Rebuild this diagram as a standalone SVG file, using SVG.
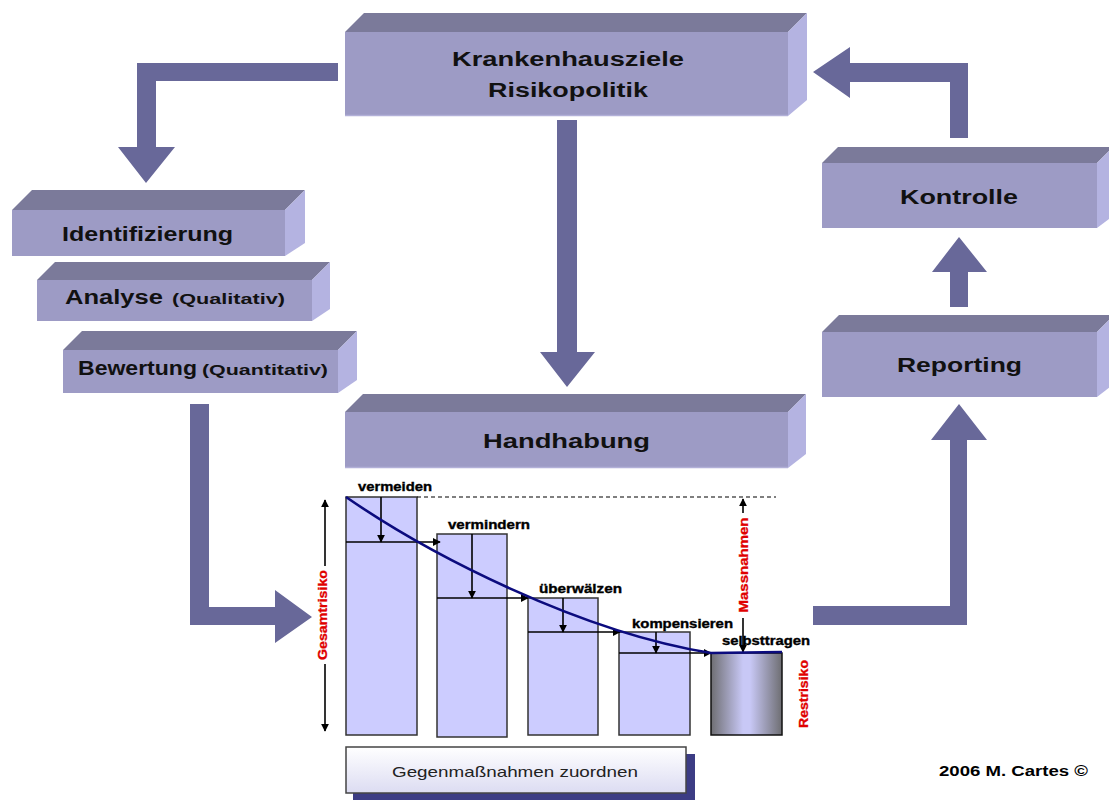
<svg xmlns="http://www.w3.org/2000/svg" width="1109" height="801" viewBox="0 0 1109 801">
  <defs>
    <style>
      .front { fill: #9D9BC5; }
      .top { fill: #7B7A9A; }
      .side { fill: #B4B3E1; }
      .edge { stroke: #B2B0D8; stroke-width: 1.5; }
      .lbl { font-family: "Liberation Sans", Arial, sans-serif; font-weight: bold; font-size: 20px; fill: #111; }
      .sub { font-family: "Liberation Sans", Arial, sans-serif; font-weight: bold; font-size: 14px; fill: #111; }
      .small { font-family: "Liberation Sans", Arial, sans-serif; font-weight: bold; font-size: 12px; fill: #000; stroke: #000; stroke-width: 0.35; }
      .red { font-family: "Liberation Sans", Arial, sans-serif; font-weight: bold; font-size: 12px; fill: #E00000; stroke: #E00000; stroke-width: 0.3; }
      .flow { fill: #686899; }
      .bar { fill: #CCCCFF; stroke: #333; stroke-width: 1.5; }
      .thin { stroke: #000; stroke-width: 1.6; fill: none; }
    </style>
    <marker id="ah" viewBox="0 0 10 10" refX="9" refY="5" markerWidth="5" markerHeight="5" orient="auto-start-reverse" markerUnits="strokeWidth">
      <path d="M0,0 L10,5 L0,10 z" fill="#000"/>
    </marker>
    <linearGradient id="cyl" x1="0" y1="0" x2="1" y2="0">
      <stop offset="0" stop-color="#6E6E72"/>
      <stop offset="0.45" stop-color="#C8C8F6"/>
      <stop offset="0.55" stop-color="#C8C8F6"/>
      <stop offset="1" stop-color="#6E6E72"/>
    </linearGradient>
    <linearGradient id="tag" x1="0" y1="0" x2="0" y2="1">
      <stop offset="0" stop-color="#FFFFFF"/>
      <stop offset="1" stop-color="#DCDCF2"/>
    </linearGradient>
  </defs>

  <!-- flow arrows between the stages -->
  <g id="connectors">
    <polygon class="flow" points="338,63 137,63 137,147 118,147 146,183 175,147 156,147 156,81 338,81"/>
    <polygon class="flow" points="557,120 577,120 577,352 595,352 567,387 540,352 557,352"/>
    <polygon class="flow" points="190,404 209,404 209,607 275,607 275,590 312,617 275,643 275,625 190,625"/>
    <polygon class="flow" points="813,606 950,606 950,440 931,440 959,404 987,440 967,440 967,625 813,625"/>
    <polygon class="flow" points="950,307 968,307 968,272 987,272 959,237 932,272 950,272"/>
    <polygon class="flow" points="968,138 950,138 950,82 850,82 850,98 813,72 850,47 850,63 968,63"/>
  </g>

  <g id="ziele">
    <polygon class="top" points="345,32 364,13 807,13 788,32"/>
    <polygon class="side" points="788,32 807,13 807,100 788,116"/>
    <rect class="front" x="345" y="32" width="443" height="84"/>
    <line class="edge" x1="345" y1="115.5" x2="788" y2="115.5"/>
    <text class="lbl" x="452" y="66" textLength="232" lengthAdjust="spacingAndGlyphs">Krankenhausziele</text>
    <text class="lbl" x="488" y="97" textLength="160" lengthAdjust="spacingAndGlyphs">Risikopolitik</text>
  </g>

  <g id="identifizierung">
    <polygon class="top" points="12,210 32,190 305,190 285,210"/>
    <polygon class="side" points="285,210 305,190 305,243 285,256"/>
    <rect class="front" x="12" y="210" width="273" height="46"/>
    <text class="lbl" x="62" y="241" textLength="171" lengthAdjust="spacingAndGlyphs">Identifizierung</text>
  </g>

  <g id="analyse">
    <polygon class="top" points="37,280 55,262 330,262 312,280"/>
    <polygon class="side" points="312,280 330,262 330,309 312,321"/>
    <rect class="front" x="37" y="280" width="275" height="41"/>
    <text class="lbl" x="65" y="304" textLength="98" lengthAdjust="spacingAndGlyphs">Analyse</text>
    <text class="sub" x="172" y="304" textLength="113" lengthAdjust="spacingAndGlyphs">(Qualitativ)</text>
  </g>

  <g id="bewertung">
    <polygon class="top" points="63,350 82,331 357,331 338,350"/>
    <polygon class="side" points="338,350 357,331 357,380 338,393"/>
    <rect class="front" x="63" y="350" width="275" height="43"/>
    <text class="lbl" x="78" y="375" textLength="119" lengthAdjust="spacingAndGlyphs">Bewertung</text>
    <text class="sub" x="202" y="375" textLength="126" lengthAdjust="spacingAndGlyphs">(Quantitativ)</text>
  </g>

  <g id="handhabung">
    <polygon class="top" points="345,412 363,394 806,394 788,412"/>
    <polygon class="side" points="788,412 806,394 806,454 788,468"/>
    <rect class="front" x="345" y="412" width="443" height="56"/>
    <line class="edge" x1="345" y1="467.5" x2="788" y2="467.5"/>
    <text class="lbl" x="483" y="448" textLength="167" lengthAdjust="spacingAndGlyphs">Handhabung</text>
  </g>

  <g id="kontrolle">
    <polygon class="top" points="822,163 838,147 1113,147 1097,163"/>
    <polygon class="side" points="1097,163 1113,147 1113,216 1097,228"/>
    <rect class="front" x="822" y="163" width="275" height="65"/>
    <text class="lbl" x="900" y="204" textLength="118" lengthAdjust="spacingAndGlyphs">Kontrolle</text>
  </g>

  <g id="reporting">
    <polygon class="top" points="822,332 839,315 1114,315 1097,332"/>
    <polygon class="side" points="1097,332 1114,315 1114,384 1097,397"/>
    <rect class="front" x="822" y="332" width="275" height="65"/>
    <text class="lbl" x="897" y="372" textLength="125" lengthAdjust="spacingAndGlyphs">Reporting</text>
  </g>

  <!-- risk reduction chart -->
  <g id="chart">
    <rect class="bar" x="346" y="497" width="71" height="238"/>
    <rect class="bar" x="437" y="534" width="70" height="203"/>
    <rect class="bar" x="528" y="598" width="70" height="137"/>
    <rect class="bar" x="619" y="632" width="71" height="103"/>
    <rect x="711" y="653" width="71" height="82" fill="url(#cyl)" stroke="#111" stroke-width="1.5"/>

    <line x1="417" y1="497" x2="776" y2="497" stroke="#000" stroke-width="1.2" stroke-dasharray="4,3"/>

    <!-- horizontal transfer arrows -->
    <line class="thin" x1="346" y1="542" x2="440" y2="542" marker-end="url(#ah)" stroke-width="2"/>
    <line class="thin" x1="437" y1="598" x2="528" y2="598" marker-end="url(#ah)" stroke-width="2"/>
    <line class="thin" x1="528" y1="632" x2="620" y2="632" marker-end="url(#ah)" stroke-width="2"/>
    <line class="thin" x1="619" y1="653" x2="711" y2="653" marker-end="url(#ah)" stroke-width="2"/>

    <!-- vertical reduction arrows -->
    <line class="thin" x1="381" y1="497" x2="381" y2="542" marker-end="url(#ah)"/>
    <line class="thin" x1="472" y1="534" x2="472" y2="598" marker-end="url(#ah)"/>
    <line class="thin" x1="563" y1="598" x2="563" y2="632" marker-end="url(#ah)"/>
    <line class="thin" x1="656" y1="632" x2="656" y2="653" marker-end="url(#ah)"/>

    <!-- total risk span -->
    <line class="thin" x1="325" y1="566" x2="325" y2="500" marker-end="url(#ah)"/>
    <line class="thin" x1="325" y1="664" x2="325" y2="731" marker-end="url(#ah)"/>
    <!-- measures span -->
    <line class="thin" x1="743" y1="513" x2="743" y2="499" marker-end="url(#ah)" stroke-width="1.4"/>
    <line class="thin" x1="743" y1="618" x2="743" y2="652" marker-end="url(#ah)" stroke-width="1.4"/>

    <path d="M346,497 C430,555 580,632 711,653 L782,652" fill="none" stroke="#0B0B7E" stroke-width="2.6"/>

    <text class="small" x="358" y="491" textLength="74" lengthAdjust="spacingAndGlyphs">vermeiden</text>
    <text class="small" x="448" y="529" textLength="82" lengthAdjust="spacingAndGlyphs">vermindern</text>
    <text class="small" x="539" y="593" textLength="83" lengthAdjust="spacingAndGlyphs">überwälzen</text>
    <text class="small" x="632" y="628" textLength="101" lengthAdjust="spacingAndGlyphs">kompensieren</text>
    <text class="small" x="722" y="645" textLength="88" lengthAdjust="spacingAndGlyphs">selbsttragen</text>

    <text class="red" transform="translate(327,615) rotate(-90)" text-anchor="middle" textLength="90" lengthAdjust="spacingAndGlyphs">Gesamtrisiko</text>
    <text class="red" transform="translate(748,565) rotate(-90)" text-anchor="middle" textLength="95" lengthAdjust="spacingAndGlyphs">Massnahmen</text>
    <text class="red" transform="translate(808,694) rotate(-90)" text-anchor="middle" textLength="68" lengthAdjust="spacingAndGlyphs">Restrisiko</text>
  </g>

  <g id="zuordnen">
    <rect x="353" y="754" width="342" height="46" fill="#3C3C84"/>
    <rect x="346" y="747" width="340" height="46" fill="url(#tag)" stroke="#444" stroke-width="1.5"/>
    <text x="392" y="777" font-family="'Liberation Sans', Arial, sans-serif" font-size="15" fill="#222" textLength="246" lengthAdjust="spacingAndGlyphs">Gegenmaßnahmen zuordnen</text>
  </g>

  <g id="copyright">
    <text x="939" y="776" font-family="'Liberation Sans', Arial, sans-serif" font-weight="bold" font-size="14" fill="#000" textLength="149" lengthAdjust="spacingAndGlyphs">2006 M. Cartes ©</text>
  </g>
</svg>
